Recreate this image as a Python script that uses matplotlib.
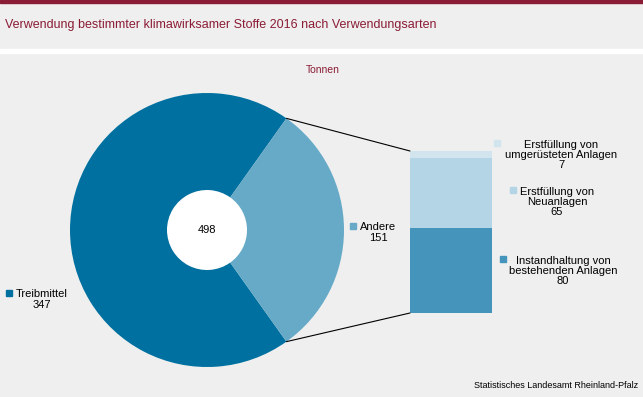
import matplotlib.pyplot as plt
from matplotlib.patches import Rectangle, ConnectionPatch

plt.rcParams['font.family'] = ['Liberation Sans', 'DejaVu Sans']

# data
pie_labels = ['Treibmittel', 'Andere']
pie_values = [347, 151]
pie_colors = ['#0070a0', '#66aac8']

bar_labels = ['Instandhaltung von\nbestehenden Anlagen',
              'Erstfüllung von\nNeuanlagen',
              'Erstfüllung von\numgerüsteten Anlagen']
bar_values = [80, 65, 7]
bar_colors = ['#4494bb', '#b3d5e5', '#d2e5ee']

title = 'Verwendung bestimmter klimawirksamer Stoffe 2016 nach Verwendungsarten'
unit = 'Tonnen'
source = 'Statistisches Landesamt Rheinland-Pfalz'

W, H = 643, 397
bg = '#eeefee'
red = '#8b1c36'

fig = plt.figure(figsize=(W / 100, H / 100), dpi=100, facecolor=bg)


def fx(px):
    return px / W


def fy(py):
    return 1 - py / H


# header decoration
fig.patches.append(Rectangle((0, fy(3)), 1, 3 / H, transform=fig.transFigure, color=red, zorder=0))
fig.patches.append(Rectangle((0, fy(53)), 1, 4 / H, transform=fig.transFigure, color='white', zorder=0))
fig.text(fx(5), fy(25), title, color=red, fontsize=9, va='center', ha='left')
fig.text(fx(323), fy(70), unit, color=red, fontsize=7.5, va='center', ha='center')
fig.text(fx(638), fy(385), source, color='black', fontsize=6.5, va='center', ha='right')

# pie (donut)
cx, cy, r = 207, 230, 137
ax = fig.add_axes([fx(cx - r), fy(cy + r), 2 * r / W, 2 * r / H])
ax.set_facecolor('none')
start = 180 * pie_values[1] / sum(pie_values)
wedges, _ = ax.pie(pie_values, colors=pie_colors, startangle=start, radius=1,
                   wedgeprops=dict(width=1 - 40 / r, linewidth=0))
ax.add_patch(plt.Circle((0, 0), 40 / r, color='white', zorder=0))
ax.set_xlim(-1, 1)
ax.set_ylim(-1, 1)
ax.set_aspect('equal')
ax.text(0, 0, str(sum(pie_values)), ha='center', va='center', fontsize=8)

# stacked bar
bx0, bx1, by0, by1 = 410, 492, 151, 313
bax = fig.add_axes([fx(bx0), fy(by1), (bx1 - bx0) / W, (by1 - by0) / H])
bax.axis('off')
bottom = 0
for v, c in zip(bar_values, bar_colors):
    bax.bar(0, v, bottom=bottom, width=1, color=c, linewidth=0)
    bottom += v
bax.set_xlim(-0.5, 0.5)
bax.set_ylim(0, sum(bar_values))

# connection lines from slice edges to bar corners
import numpy as np
a = np.deg2rad(start)
for sgn, yb in [(1, sum(bar_values)), (-1, 0)]:
    con = ConnectionPatch(xyA=(np.cos(a), sgn * np.sin(a)), coordsA=ax.transData,
                          xyB=(-0.5, yb), coordsB=bax.transData, color='black', lw=0.8)
    fig.add_artist(con)

# labels with square markers
pie_label_pos = [(41.5, 299.5, 9), (378, 232.5, 353)]
for (tx, ty, mx), lab, v, c in zip(pie_label_pos, pie_labels, pie_values, pie_colors):
    fig.text(fx(tx), fy(ty), f'{lab}\n{v}', ha='center', va='center', fontsize=8, linespacing=1.1)
    fig.patches.append(Rectangle((fx(mx - 3), fy(ty - 3.5)), 6 / W, 6 / H,
                                 transform=fig.transFigure, color=c))

bar_label_pos = [(563, 271, 503), (557, 202, 513), (561, 155, 497)]
for (tx, ty, mx), lab, v, c in zip(bar_label_pos, bar_labels, bar_values, bar_colors):
    fig.text(fx(tx), fy(ty), f'{lab}\n{v}', ha='center', va='center', fontsize=8, linespacing=1.05)
    fig.patches.append(Rectangle((fx(mx - 3), fy(ty - 9)), 6 / W, 6 / H,
                                 transform=fig.transFigure, color=c))

fig.savefig('out.png', dpi=100, facecolor=bg)
